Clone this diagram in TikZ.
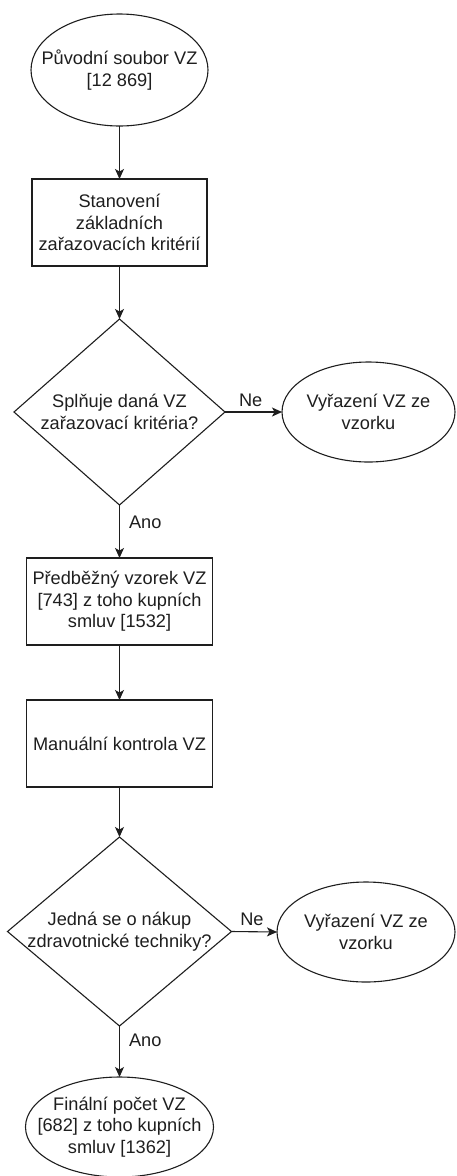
\documentclass[tikz,border=0pt]{standalone}
\usepackage{fontspec}
\setmainfont{Liberation Sans}
\usetikzlibrary{shapes.geometric,arrows.meta}
\definecolor{ink}{HTML}{1E1E1E}
\begin{document}
\begin{tikzpicture}[x=1pt,y=-1pt,
  shapeline/.style={draw=ink, line width=1.1pt, inner sep=0pt, outer sep=0pt},
  procbox/.style={shapeline, rectangle, minimum width=#1, minimum height=87pt},
  ovalbox/.style={shapeline, ellipse},
  choice/.style={shapeline, diamond},
  caption/.style={font=\fontsize{18.2}{21.5}\selectfont, text=ink, align=center, inner sep=0pt},
  flow/.style={draw=ink, line width=1.1pt, -{Stealth[length=10pt,width=9pt,inset=2.5pt]}},
  edgetag/.style={font=\fontsize{18.2}{21.5}\selectfont, text=ink, inner sep=0pt}
]
\useasboundingbox (0,0) rectangle (456,1176);

% main column
\node[ovalbox, minimum width=177pt, minimum height=112pt] (start) at (119.5,70) {};
\node[caption] (startT) at (start) {Původní soubor VZ\\{[12 869]}};

\node[procbox=175pt] (crit) at (119.5,222.5) {};
\node[caption] (critT) at (crit) {Stanovení\\základních\\zařazovacích kritérií};

\node[choice, minimum width=211pt, minimum height=186pt] (q1) at (119.5,412) {};
\node[caption] (q1T) at (q1) {Splňuje daná VZ\\zařazovací kritéria?};

\node[procbox=186pt] (pre) at (119.5,601.5) {};
\node[caption] (preT) at (pre) {Předběžný vzorek VZ\\{[743] z toho kupních}\\smluv [1532]};

\node[procbox=186pt] (man) at (119.5,743.5) {};
\node[caption] (manT) at (man) {Manuální kontrola VZ};

\node[choice, minimum width=224pt, minimum height=189pt] (q2) at (119.5,931.5) {};
\node[caption] (q2T) at (q2) {Jedná se o nákup\\zdravotnické techniky?};

\node[ovalbox, minimum width=188pt, minimum height=100pt] (fin) at (119.5,1127) {};
\node[caption] (finT) at (fin) {Finální počet VZ\\{[682] z toho kupních}\\smluv [1362]};

% rejection branches
\node[ovalbox, minimum width=173pt, minimum height=100pt] (out1) at (368.5,412) {};
\node[caption] (out1T) at (out1) {Vyřazení VZ ze\\vzorku};

\node[ovalbox, minimum width=178pt, minimum height=100pt] (out2) at (366,932) {};
\node[caption] (out2T) at (out2) {Vyřazení VZ ze\\vzorku};

% connectors
\draw[flow] (start.south) -- (crit.north);
\draw[flow] (crit.south) -- (q1.north);
\draw[flow] (q1.south) -- node[edgetag, pos=0.32, anchor=west, xshift=9pt] {Ano} (pre.north);
\draw[flow] (q1.east) -- node[edgetag, pos=0.45, anchor=south, yshift=5pt] {Ne} (out1.west);
\draw[flow] (pre.south) -- (man.north);
\draw[flow] (man.south) -- (q2.north);
\draw[flow] (q2.south) -- node[edgetag, pos=0.28, anchor=west, xshift=9pt] {Ano} (fin.north);
\draw[flow] (q2.east) -- node[edgetag, pos=0.45, anchor=south, yshift=6pt] {Ne} (out2.west);
\end{tikzpicture}
\end{document}
